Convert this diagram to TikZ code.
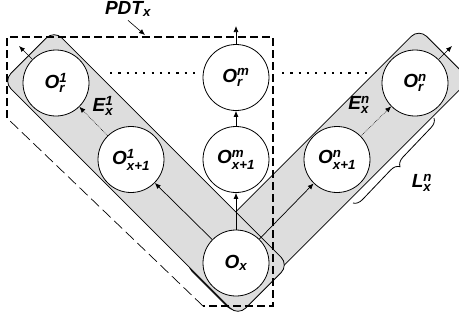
\documentclass[tikz,border=0pt]{standalone}
\usepackage{amsmath}
\usepackage{fontspec}
\setmainfont{Liberation Sans}
\usetikzlibrary{arrows.meta,decorations.pathreplacing}
\definecolor{bandgray}{RGB}{221,221,221}
\newcommand\olbl[2]{O$_{\text{#1}}^{\text{#2}}$}
\begin{document}
\begin{tikzpicture}[x=1pt,y=-1pt,font=\fontsize{19}{22}\selectfont\bfseries\itshape]
	\tikzstyle{obj}=[circle,draw,fill=white,line width=.8pt,minimum size=66pt,inner sep=0pt];
	\tikzstyle{band}=[draw,fill=bandgray,line width=.8pt,rounded corners=11pt,minimum width=332pt,minimum height=72pt];
	\tikzstyle{arr}=[-{Latex[length=6pt,width=5pt]},line width=.7pt];
	\tikzstyle{earr}=[arr,densely dotted,line width=.5pt];
	\useasboundingbox (0,0) rectangle (459,322);
	\node[band,rotate=45] (rband) at (327,171.5) {};
	\node[band,rotate=-45] (lband) at (146,173) {};
	\draw[line width=1.8pt,dash pattern=on 8pt off 4pt] (7,118) -- (7,37) -- (273,37) -- (273,306) -- (203,306);
	\draw[line width=.7pt,dash pattern=on 11pt off 5pt] (203,306) -- (7,118);
	\draw[line width=2.2pt,dash pattern=on 2.2pt off 6.1pt] (110,73) -- (195,73) (282,73) -- (370,73);
	\node[obj] (ox) at (236,263) {O$_{\text{x}}$};
	\node[obj] (oxa1) at (131,159.5) {\olbl{x+1}{1}};
	\node[obj] (oxam) at (236,159.5) {\olbl{x+1}{m}};
	\node[obj] (oxan) at (337,159.5) {\olbl{x+1}{n}};
	\node[obj] (or1) at (56,83) {\olbl{r}{1}};
	\node[obj] (orm) at (236,77.5) {\olbl{r}{m}};
	\node[obj] (orn) at (415,83) {\olbl{r}{n}};
	\coordinate (or1out) at (19,46);
	\coordinate (ormout) at (236,26);
	\coordinate (ornout) at (452,46);
	\draw[arr] (ox) -- (oxa1);
	\draw[arr] (ox) -- (oxam);
	\draw[arr] (ox) -- (oxan);
	\draw[arr] (oxam) -- (orm);
	\draw[earr] (oxa1) -- (or1);
	\draw[earr] (oxan) -- (orn);
	\draw[arr] (or1) -- (or1out);
	\draw[arr] (orm) -- (ormout);
	\draw[arr] (orn) -- (ornout);
	\node (e1) at (103,106) {E$_{\text{x}}^{\text{1}}$};
	\node (en) at (359,105) {E$_{\text{x}}^{\text{n}}$};
	\draw[decorate,decoration={brace,amplitude=9pt},line width=.8pt] (434,118) -- (353,203);
	\node (ln) at (422,183) {L$_{\text{x}}^{\text{n}}$};
	\node (pdt) at (128,9) {PDT$_{\text{x}}$};
	\coordinate (pdttip) at (145,35);
	\draw[arr,line width=.6pt] (pdt.south) -- (pdttip);
\end{tikzpicture}
\end{document}
